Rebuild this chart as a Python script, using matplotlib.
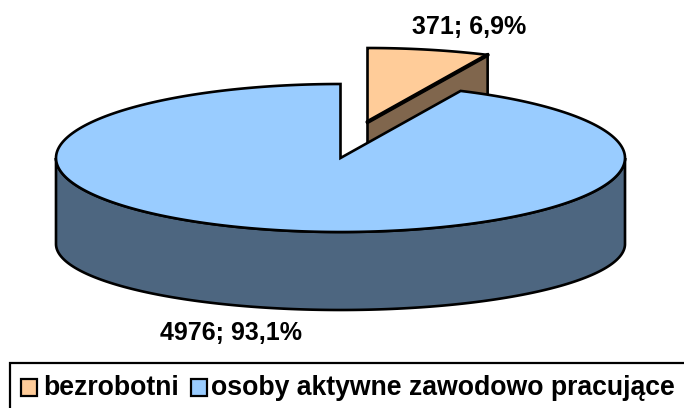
import numpy as np
import matplotlib
matplotlib.use('Agg')
import matplotlib.pyplot as plt
from matplotlib.patches import Polygon, Rectangle

categories = ['bezrobotni', 'osoby aktywne zawodowo pracujące']
values = [371, 4976]
value_labels = ['371; 6,9%', '4976; 93,1%']
top_colors = ['#FFCC99', '#99CCFF']
side_colors = ['#80664D', '#4D6680']

plt.rcParams['font.family'] = ['Liberation Sans', 'DejaVu Sans']

CX, CY = 340.5, 158
RX, RY = 284.5, 74
BASE_CY, BASE_RY = 244, 66
CUT_DEPTH = 80
SHIFT = (27, -36)
LW = 1.9


def rim(start, stop, dx=0, dy=0, cy=CY, ry=RY):
    # angles run clockwise from 12 o'clock
    t = np.radians(np.linspace(start, stop, 300))
    return np.column_stack([CX + dx + RX * np.sin(t), cy + dy - ry * np.cos(t)])


def draw_top(start, stop, color, dx=0, dy=0, z=1):
    apex = np.array([[CX + dx, CY + dy]])
    ax.add_patch(Polygon(np.vstack([apex, rim(start, stop, dx, dy)]), closed=True, fc=color,
                         ec='black', lw=LW, joinstyle='miter', zorder=z))


fig = plt.figure(figsize=(6.84, 4.08), dpi=100)
ax = fig.add_axes([0, 0, 1, 1])
ax.set_xlim(0, 684)
ax.set_ylim(408, 0)
ax.axis('off')

sweep = 360 * values[0] / sum(values)

# cut face of the pulled out slice, the big slice hides most of it
cut = np.array([[CX + SHIFT[0], CY + SHIFT[1]], rim(sweep, sweep, *SHIFT)[0]])
ax.add_patch(Polygon(np.vstack([cut, cut[::-1] + [0, CUT_DEPTH]]), closed=True,
                     fc=side_colors[0], ec='black', lw=LW, zorder=1))
draw_top(0, sweep, top_colors[0], SHIFT[0], SHIFT[1], z=1.5)
ax.plot(cut[:, 0], cut[:, 1], color='black', lw=3, solid_capstyle='round', zorder=1.6)

# front wall of the big slice
wall = np.vstack([rim(90, 270), rim(270, 90, cy=BASE_CY, ry=BASE_RY)])
ax.add_patch(Polygon(wall, closed=True, fc=side_colors[1], ec='black', lw=LW, zorder=2))
draw_top(sweep, 360, top_colors[1], z=2.5)

ax.text(469, 27, value_labels[0], ha='center', va='center', fontsize=18, fontweight='bold')
ax.text(231, 333, value_labels[1], ha='center', va='center', fontsize=18, fontweight='bold')

# legend frame runs off the right and bottom of the picture
ax.add_patch(Rectangle((10, 363), 700, 70, fc='white', ec='black', lw=1.6, zorder=3))
for x, color in zip([20.5, 190.5], top_colors):
    ax.add_patch(Rectangle((x, 379), 16, 16.5, fc=color, ec='black', lw=1.6, zorder=4))
for x, name in zip([43, 211], categories):
    ax.text(x, 395, name, ha='left', va='baseline', fontsize=19.2, fontweight='bold', zorder=4)

fig.savefig('out.png', dpi=100)
